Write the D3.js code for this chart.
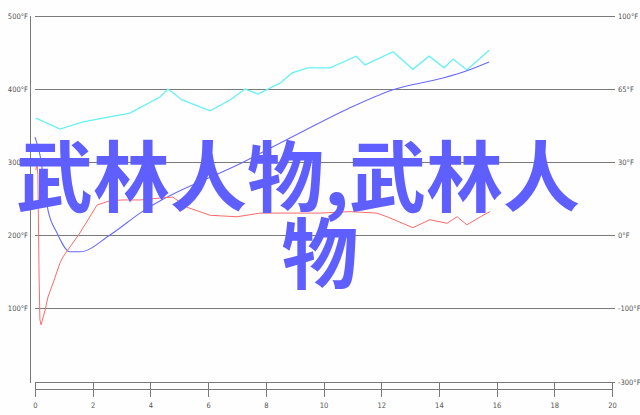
<!DOCTYPE html>
<html><head><meta charset="utf-8">
<script src="https://cdn.jsdelivr.net/npm/d3@7"></script>
<style>
html,body{margin:0;padding:0;background:#fefefe;}
svg{display:block;}
</style></head>
<body>
<svg id="c" width="640" height="415"></svg>
<script>
// ---- data ----
const xTicks = [0,2,4,6,8,10,12,14,16,18,20];
const leftTicks = [100,200,300,400,500];
const leftLabels = ["100°F","200°F","300°F","400°F","500°F"];
const rightTicks = [0,100,200,300,400,500];
const rightLabels = ["-300°F","-100°F","0°F","30°F","65°F","100°F"];

const cyanX = [0.03,0.87,1.66,3.29,4.33,4.61,5.10,6.07,6.76,7.28,7.73,8.49,8.91,9.46,10.23,11.13,11.44,12.41,13.10,13.66,14.18,14.49,14.97,15.74];
const cyanY = [360,345,355,367,389,400,385,370,385,400,393,408,422,429,429,445,433,451,427,445,429,441,426,453];

const blueX = [0,0.17,0.45,0.76,1.21,1.56,2.6,3.64,7.28,9.19,10.85,12.41,14.14,14.97,15.74];
const blueY = [334,310,234,203,177,177,200,230,301,340,373,399,415,425,437];

const redX = [0.03,0.07,0.10,0.14,0.17,0.21,0.35,0.45,0.66,0.87,0.97,1.56,2.15,2.6,3.05,3.64,4.44,4.78,5.27,6.07,7.0,7.8,9.19,9.88,10.92,11.85,12.2,13.1,13.69,14.28,14.63,14.97,15.53,15.77];
const redY = [289,299,282,148,84,77,97,115,138,162,170,203,241,247,248,248,251,252,238,227,225,230,230,230,232,230,225,210,221,216,225,214,227,232];

const titlePartA = "武林人物,";
const titlePartB = "武林人";
const titleLine2 = "物";

// ---- scales ----
const svg = d3.select("#c");
const x = d3.scaleLinear().domain([0,20]).range([35,612]);
const y = d3.scaleLinear().domain([0,500]).range([381,16]);

const grid = "#7a7a7a";
const txt = "#555";
const tickFont = "'DejaVu Sans Condensed','DejaVu Sans',sans-serif";

// gridlines
svg.append("g").selectAll("line").data(rightTicks.filter(d=>d>0)).join("line")
  .attr("x1",35).attr("x2",615)
  .attr("y1",d=>Math.round(y(d))+0.5).attr("y2",d=>Math.round(y(d))+0.5)
  .attr("stroke",grid).attr("stroke-width",1);

// left axis line
svg.append("line").attr("x1",30.5).attr("x2",30.5).attr("y1",y(500)).attr("y2",383)
  .attr("stroke",grid);

// left labels
svg.append("g").selectAll("text").data(leftTicks).join("text")
  .attr("x",28).attr("y",d=>y(d)).attr("dy","0.35em")
  .attr("text-anchor","end").attr("font-family",tickFont).attr("font-size",7.5)
  .attr("fill",txt).text((d,i)=>leftLabels[i]);

// right labels
svg.append("g").selectAll("text").data(rightTicks).join("text")
  .attr("x",618).attr("y",d=>y(d)+ (d===0?1:0)).attr("dy","0.35em")
  .attr("text-anchor","start").attr("font-family",tickFont).attr("font-size",7.5)
  .attr("fill",txt).text((d,i)=>rightLabels[i]);

// bottom box axis
const bx = svg.append("g");
bx.append("line").attr("x1",x(0)).attr("x2",x(20)+3).attr("y1",382.5).attr("y2",382.5).attr("stroke",grid);
bx.append("line").attr("x1",x(0)).attr("x2",x(20)).attr("y1",389.5).attr("y2",389.5).attr("stroke",grid);
bx.selectAll("line.t").data(xTicks).join("line").attr("class","t")
  .attr("x1",d=>Math.round(x(d))+0.5).attr("x2",d=>Math.round(x(d))+0.5)
  .attr("y1",382).attr("y2",397).attr("stroke",grid);
bx.selectAll("text").data(xTicks).join("text")
  .attr("x",d=>x(d)+0.5).attr("y",405).attr("dy","0.35em")
  .attr("text-anchor","middle").attr("font-family",tickFont).attr("font-size",7.5)
  .attr("fill",txt).text(d=>d);

// series
const mk = (xs,ys)=>xs.map((v,i)=>[v,ys[i]]);
svg.append("path").datum(mk(cyanX,cyanY)).attr("d",d3.line().x(d=>x(d[0])).y(d=>y(d[1])).curve(d3.curveLinear))
  .attr("fill","none").attr("stroke","#66f2f2").attr("stroke-width",1.3);
svg.append("path").datum(mk(blueX,blueY)).attr("d",d3.line().x(d=>x(d[0])).y(d=>y(d[1])).curve(d3.curveMonotoneX))
  .attr("fill","none").attr("stroke","#6a6aff").attr("stroke-width",1.1);
svg.append("path").datum(mk(redX,redY)).attr("d",d3.line().x(d=>x(d[0])).y(d=>y(d[1])).curve(d3.curveLinear))
  .attr("fill","none").attr("stroke","#ff6a6a").attr("stroke-width",1);

// overlay title
const tf = "'Noto Sans CJK SC','Noto Sans CJK JP',sans-serif";
const t1 = svg.append("text").attr("y",206).attr("font-family",tf).attr("font-weight","bold")
  .attr("font-size",77).attr("fill","#5f5fff");
t1.append("tspan").attr("x",16).text(titlePartA);
t1.append("tspan").attr("x",349).text(titlePartB);
svg.append("text").attr("x",320).attr("y",283).attr("text-anchor","middle").attr("font-family",tf).attr("font-weight","bold")
  .attr("font-size",77).attr("fill","#5f5fff").text(titleLine2);
</script>
</body></html>
